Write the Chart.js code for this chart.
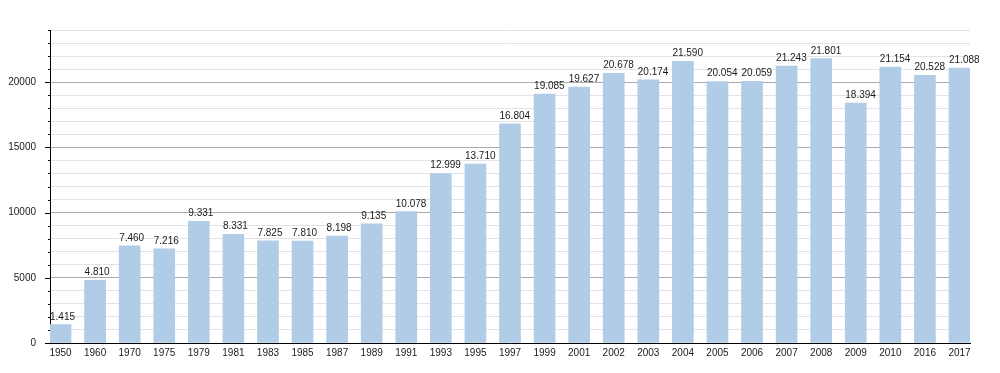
<!DOCTYPE html>
<html>
<head>
<meta charset="utf-8">
<script src="https://cdn.jsdelivr.net/npm/chart.js@4/dist/chart.umd.min.js"></script>
<style>
  html, body { margin: 0; padding: 0; background: #fff; }
  #wrap { width: 1000px; height: 373px; }
</style>
</head>
<body>
<div id="wrap"><canvas id="chart" width="1000" height="373"></canvas></div>
<script>
// years shown on the x axis
const years = ['1950', '1960', '1970', '1975', '1979', '1981', '1983', '1985', '1987', '1989',
  '1991', '1993', '1995', '1997', '1999', '2001', '2002', '2003', '2004', '2005',
  '2006', '2007', '2008', '2009', '2010', '2016', '2017'];

// population per year
const population = [1415, 4810, 7460, 7216, 9331, 8331, 7825, 7810, 8198, 9135,
  10078, 12999, 13710, 16804, 19085, 19627, 20678, 20174, 21590, 20054,
  20059, 21243, 21801, 18394, 21154, 20528, 21088];

const yTicks = [0, 5000, 10000, 15000, 20000];

const fontFamily = "'Liberation Sans', Arial, sans-serif";

function fmt(v) {
  return String(v).replace(/\B(?=(\d{3})+(?!\d))/g, '.');
}

// value labels above each bar, left aligned to the bar edge
const valueLabels = {
  id: 'valueLabels',
  afterDatasetsDraw(chart) {
    const ctx = chart.ctx;
    const meta = chart.getDatasetMeta(0);
    ctx.save();
    ctx.font = '10px ' + fontFamily;
    ctx.fillStyle = '#1a1a1a';
    ctx.textAlign = 'left';
    ctx.textBaseline = 'alphabetic';
    meta.data.forEach((bar, i) => {
      ctx.fillText(fmt(population[i]), bar.x - bar.width / 2, bar.y - 5);
    });
    ctx.restore();
  }
};

// small tick marks on the left of the y axis
const yTickMarks = {
  id: 'yTickMarks',
  afterDraw(chart) {
    const ctx = chart.ctx;
    const y = chart.scales.y;
    const left = chart.chartArea.left;
    ctx.save();
    ctx.strokeStyle = '#000';
    ctx.lineWidth = 1;
    y.ticks.forEach(t => {
      const py = Math.round(y.getPixelForValue(t.value)) + 0.5;
      const len = t.value % 5000 === 0 ? 5 : 2;
      ctx.beginPath();
      ctx.moveTo(left - len, py);
      ctx.lineTo(left, py);
      ctx.stroke();
    });
    ctx.restore();
  }
};

const ctx = document.getElementById('chart').getContext('2d');
new Chart(ctx, {
  type: 'bar',
  data: {
    datasets: [{
      data: population.map((v, i) => ({ x: i, y: v })),
      backgroundColor: '#b1cce6',
      borderWidth: 0,
      barThickness: 21
    }]
  },
  options: {
    responsive: false,
    animation: false,
    layout: { padding: { top: 30, right: 30, left: 0, bottom: 0 } },
    plugins: {
      legend: { display: false },
      tooltip: { enabled: false }
    },
    scales: {
      x: {
        type: 'linear',
        offset: false,
        min: -0.3037,
        max: 26.3037,
        grid: { display: false, drawTicks: false },
        border: { display: true, color: '#000', width: 1 },
        afterBuildTicks: s => { s.ticks = years.map((_, i) => ({ value: i })); },
        afterFit: s => { s.height = 30; },
        ticks: {
          autoSkip: false,
          maxRotation: 0,
          padding: 4,
          color: '#1a1a1a',
          font: { family: fontFamily, size: 10 },
          callback: v => years[v]
        }
      },
      y: {
        min: 0,
        max: 24000,
        afterFit: s => { s.width = 50; },
        border: { display: true, color: '#000', width: 1 },
        grid: {
          drawTicks: false,
          color: c => (c.tick && c.tick.value % 5000 === 0) ? '#aaaaaa' : '#e3e3e3',
          lineWidth: 1
        },
        ticks: {
          stepSize: 1000,
          autoSkip: false,
          padding: 14,
          color: '#1a1a1a',
          font: { family: fontFamily, size: 10 },
          callback: v => yTicks.includes(v) ? String(v) : ''
        }
      }
    }
  },
  plugins: [valueLabels, yTickMarks]
});
</script>
</body>
</html>
